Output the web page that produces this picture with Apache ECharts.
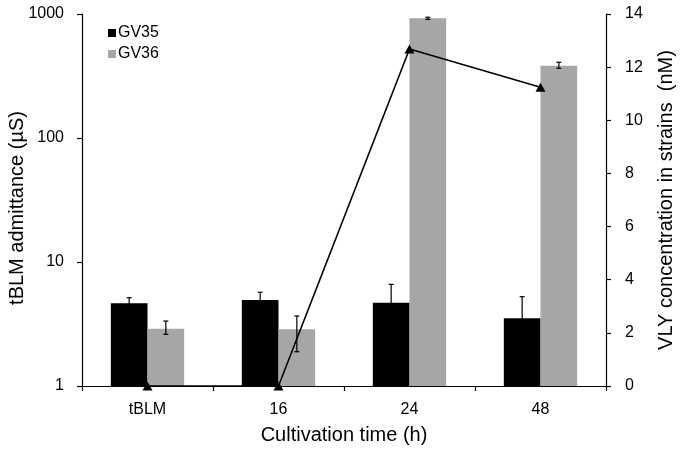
<!DOCTYPE html>
<html>
<head>
<meta charset="utf-8">
<script src="https://cdn.jsdelivr.net/npm/echarts@6/dist/echarts.min.js"></script>
<style>
html,body{margin:0;padding:0;background:#fff;}
#chart{width:683px;height:453px;}
</style>
</head>
<body>
<div id="chart"></div>
<script>
const categories = ['tBLM', '16', '24', '48'];
const gv35 = [4.64, 4.94, 4.7, 3.52];
const gv35Low = [4.18, 4.28, 3.35, 2.36];
const gv35High = [5.15, 5.7, 6.6, 5.25];
const gv36 = [2.9, 2.87, 923, 383];
const gv36Low = [2.61, 1.89, 905, 365];
const gv36High = [3.34, 3.67, 942, 408];
const vly = [0, 0, 12.68, 11.24];
const leftTicks = [1, 10, 100, 1000];
const rightTicks = [0, 2, 4, 6, 8, 10, 12, 14];

const FONT = "'Liberation Sans', Arial, sans-serif";
const chart = echarts.init(document.getElementById('chart'), null, {renderer: 'canvas'});

function errData(low, high) {
  return low.map((l, i) => [i, l, high[i]]);
}
function errRender(sign) {
  return function (params, api) {
    const idx = api.value(0);
    const lo = api.value(1), hi = api.value(2);
    const band = api.coord([1, 10])[0] - api.coord([0, 10])[0];
    const c0 = api.coord([idx, lo]);
    const c1 = api.coord([idx, hi]);
    const x = c0[0] + sign * band * 0.14;
    const hw = 2.5;
    const style = {stroke: '#000', lineWidth: 1.2};
    return {
      type: 'group',
      children: [
        {type: 'line', shape: {x1: x, y1: c0[1], x2: x, y2: c1[1]}, style: style},
        {type: 'line', shape: {x1: x - hw, y1: c0[1], x2: x + hw, y2: c0[1]}, style: style},
        {type: 'line', shape: {x1: x - hw, y1: c1[1], x2: x + hw, y2: c1[1]}, style: style}
      ]
    };
  };
}

const axisLine = {show: true, lineStyle: {color: '#000', width: 1.2}};
const axisTick = {show: true, length: 5, lineStyle: {color: '#000', width: 1.2}};

chart.setOption({
  animation: false,
  textStyle: {fontFamily: FONT, color: '#000'},
  grid: {left: 82, right: 77, top: 14, bottom: 67, containLabel: false, outerBoundsMode: 'none'},
  legend: {
    orient: 'vertical', left: 103, top: 20, itemWidth: 8, itemHeight: 8, itemGap: 5,
    icon: 'rect',
    data: ['GV35', 'GV36'],
    textStyle: {fontFamily: FONT, fontSize: 16, color: '#000', padding: [0, 0, 0, -3]}
  },
  xAxis: {
    type: 'category', data: categories,
    name: 'Cultivation time (h)', nameLocation: 'middle', nameGap: 39, nameMoveOverlap: false,
    nameTextStyle: {fontFamily: FONT, fontSize: 20, color: '#000'},
    axisLine: axisLine,
    axisTick: {show: true, length: 5, interval: 0, alignWithLabel: false, lineStyle: {color: '#000', width: 1.2}},
    axisLabel: {fontFamily: FONT, fontSize: 16, color: '#000', margin: 16},
    splitLine: {show: false}
  },
  yAxis: [
    {
      type: 'log', logBase: 10, min: leftTicks[0], max: leftTicks[leftTicks.length - 1], position: 'left',
      name: 'tBLM admittance (µS)', nameLocation: 'middle', nameGap: 55, nameRotate: 90, nameMoveOverlap: false,
      nameTextStyle: {fontFamily: FONT, fontSize: 20, color: '#000', padding: [0, 16, 0, 0]},
      axisLine: axisLine, axisTick: axisTick,
      minorTick: {show: false},
      axisLabel: {fontFamily: FONT, fontSize: 16, color: '#000', margin: 18, formatter: v => String(Math.round(v))},
      splitLine: {show: false}
    },
    {
      type: 'value', min: rightTicks[0], max: rightTicks[rightTicks.length - 1], interval: 2, position: 'right',
      name: 'VLY concentration in strains  (nM)', nameLocation: 'middle', nameGap: 50, nameRotate: 90, nameMoveOverlap: false,
      nameTextStyle: {fontFamily: FONT, fontSize: 20, color: '#000'},
      axisLine: axisLine, axisTick: axisTick,
      axisLabel: {fontFamily: FONT, fontSize: 16, color: '#000', margin: 19},
      splitLine: {show: false}
    }
  ],
  series: [
    {
      name: 'GV35', type: 'bar', yAxisIndex: 0, data: gv35,
      barGap: '0%', barCategoryGap: '44%',
      itemStyle: {color: '#000'}, z: 2
    },
    {
      name: 'GV36', type: 'bar', yAxisIndex: 0, data: gv36,
      barGap: '0%', barCategoryGap: '44%',
      itemStyle: {color: '#a6a6a6'}, z: 2
    },
    {
      name: 'err35', type: 'custom', yAxisIndex: 0, data: errData(gv35Low, gv35High),
      encode: {x: 0, y: [1, 2]}, renderItem: errRender(-1), z: 4, silent: true
    },
    {
      name: 'err36', type: 'custom', yAxisIndex: 0, data: errData(gv36Low, gv36High),
      encode: {x: 0, y: [1, 2]}, renderItem: errRender(1), z: 4, silent: true
    },
    {
      name: 'VLY', type: 'line', yAxisIndex: 1, data: vly,
      symbol: 'triangle', symbolSize: [10, 9], showSymbol: true, clip: false,
      lineStyle: {color: '#000', width: 1.6}, itemStyle: {color: '#000'}, z: 5
    }
  ]
});
</script>
</body>
</html>
